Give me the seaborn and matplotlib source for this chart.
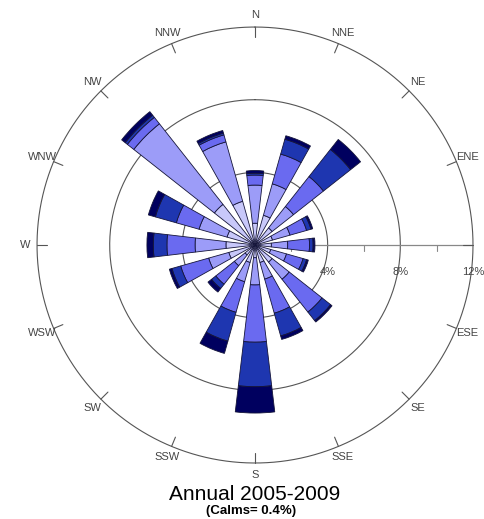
import numpy as np
import matplotlib
matplotlib.use("Agg")
import matplotlib.pyplot as plt
import seaborn as sns

# Wind directions (clockwise from north) and frequency (%) of each speed class
directions = ["N", "NNE", "NE", "ENE", "E", "ESE", "SE", "SSE",
              "S", "SSW", "SW", "WSW", "W", "WNW", "NW", "NNW"]
speed_class_1 = [1.20, 1.70, 1.20, 1.00, 0.90, 0.90, 1.20, 1.00,
                 0.70, 1.00, 0.70, 1.50, 1.60, 1.60, 2.85, 2.50]
speed_class_2 = [2.10, 1.80, 1.50, 1.00, 0.90, 0.90, 1.20, 0.95,
                 1.50, 1.10, 0.75, 1.15, 1.70, 1.60, 5.65, 3.40]
speed_class_3 = [0.55, 1.70, 2.10, 0.95, 1.20, 0.95, 2.30, 1.95,
                 3.15, 1.75, 1.30, 1.60, 1.55, 1.30, 0.45, 0.40]
speed_class_4 = [0.10, 0.85, 1.90, 0.25, 0.20, 0.20, 0.60, 1.30,
                 2.45, 1.65, 0.30, 0.50, 0.75, 1.20, 0.15, 0.10]
speed_class_5 = [0.15, 0.20, 0.70, 0.10, 0.10, 0.10, 0.10, 0.20,
                 1.45, 0.70, 0.25, 0.15, 0.35, 0.40, 0.25, 0.15]
ring_values = [4, 8, 12]
ring_labels = ["4%", "8%", "12%"]
minor_ticks = [2, 6, 10]
title = "Annual 2005-2009"
subtitle = "(Calms= 0.4%)"

sns.set_theme(style="white")
plt.rcParams["font.family"] = ["Liberation Sans", "DejaVu Sans"]

palette = sns.color_palette(["#C8C8FA", "#9C9CF8", "#6A6AF0", "#1E36B0", "#00005F"])
classes = [speed_class_1, speed_class_2, speed_class_3, speed_class_4, speed_class_5]

fig = plt.figure(figsize=(4.85, 5.19), dpi=100)
ax = fig.add_axes([0.0763, 0.1079, 0.899, 0.840], projection="polar")
ax.set_theta_zero_location("N")
ax.set_theta_direction(-1)
ax.set_ylim(0, 12)
ax.grid(False)
ax.set_xticks([])
ax.set_yticks([])
ax.spines["polar"].set_visible(False)
ax.patch.set_alpha(0)

theta = np.deg2rad(np.arange(len(directions)) * 22.5)
width = np.deg2rad(13.5)
grey = "#555555"

# range rings
full = np.linspace(0, 2 * np.pi, 400)
for r in ring_values:
    ax.plot(full, np.full_like(full, r), color=grey, lw=0.8, zorder=0, clip_on=False)

# radial scale along the east axis
ax.plot([np.pi / 2, np.pi / 2], [0, 12], color="#888888", lw=0.9, zorder=0)
for r in minor_ticks:
    x = 0.5 + r / 24
    ax.plot([x, x], [0.5, 0.487], transform=ax.transAxes, color="#888888", lw=0.8,
            zorder=0, clip_on=False)
for r, lab in zip(ring_values, ring_labels):
    ax.text(0.5 + r / 24, 0.438, lab, transform=ax.transAxes, ha="center", va="center",
            fontsize=8, color="#444444", zorder=0)

# compass ticks and labels (the east label falls beyond the figure edge)
for th, name in zip(theta, directions):
    ax.plot([th, th], [11.45, 12], color=grey, lw=0.8, clip_on=False, zorder=0)
    if name == "E":
        continue
    R = 1.055
    ax.text(0.5 + 0.5 * R * np.sin(th), 0.5 + 0.5 * R * np.cos(th), name,
            transform=ax.transAxes, ha="center", va="center", fontsize=8,
            color="#444444", clip_on=False)

# stacked speed-class wedges
bottom = np.zeros(len(directions))
for vals, col in zip(classes, palette):
    vals = np.asarray(vals)
    ax.bar(theta, vals, width=width, bottom=bottom, color=col,
           edgecolor="#15153a", linewidth=0.6, zorder=2)
    bottom += vals

fig.text(255 / 485, 1 - 494 / 519, title, ha="center", va="center", fontsize=15,
         color="black")
fig.text(251 / 485, 1 - 511 / 519, subtitle, ha="center", va="center", fontsize=9.5,
         fontweight="bold", color="black")

fig.savefig("out.png", dpi=100, facecolor="white")
